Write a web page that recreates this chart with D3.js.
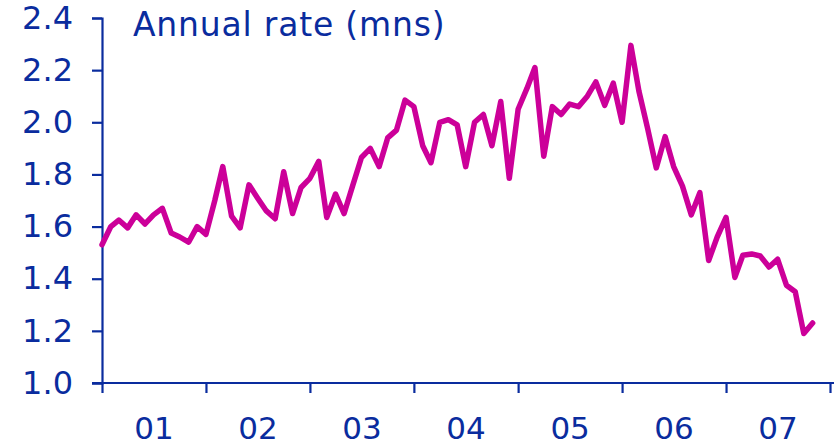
<!DOCTYPE html>
<html>
<head>
<meta charset="utf-8">
<script src="https://cdn.jsdelivr.net/npm/d3@7"></script>
<style>
  body { margin: 0; background: #fff; }
  svg { display: block; }
  text { font-family: "DejaVu Sans", Verdana, sans-serif; }
</style>
</head>
<body>
<svg id="chart" width="836" height="447"></svg>
<script>
// monthly annual rate, Jan 2001 .. Nov 2007
var firstMonth = new Date(2001, 0, 1);
var rates = [
  1.53, 1.60, 1.625, 1.595, 1.645, 1.61, 1.645, 1.67, 1.575, 1.56, 1.54, 1.60,   // 01
  1.57, 1.70, 1.83, 1.64, 1.595, 1.76, 1.71, 1.66, 1.63, 1.81, 1.65, 1.75,       // 02
  1.785, 1.85, 1.635, 1.725, 1.65, 1.76, 1.865, 1.90, 1.83, 1.94, 1.97, 2.085,   // 03
  2.06, 1.91, 1.845, 2.00, 2.01, 1.99, 1.83, 2.00, 2.03, 1.91, 2.08, 1.785,      // 04
  2.05, 2.13, 2.21, 1.87, 2.06, 2.03, 2.07, 2.06, 2.10, 2.155, 2.065, 2.15,      // 05
  2.0, 2.295, 2.12, 1.975, 1.825, 1.945, 1.83, 1.755, 1.645, 1.73, 1.47, 1.56,   // 06
  1.635, 1.405, 1.49, 1.495, 1.487, 1.445, 1.475, 1.375, 1.35, 1.19, 1.23         // 07
];
var yearLabels = ['01', '02', '03', '04', '05', '06', '07'];
var yTicks = [1.0, 1.2, 1.4, 1.6, 1.8, 2.0, 2.2, 2.4];
var title = 'Annual rate (mns)';

var axisColor = '#0a2c9e',
    lineColor = '#cc0099';

var svg = d3.select('#chart');

var data = rates.map(function(v, i) {
  return { date: d3.timeMonth.offset(firstMonth, i), value: v };
});

var x = d3.scaleTime()
  .domain([firstMonth, new Date(2008, 0, 1)])
  .range([102, 830]);

var y = d3.scaleLinear()
  .domain([1.0, 2.4])
  .range([383, 18]);

// y axis
var yAxis = svg.append('g')
  .attr('transform', 'translate(102,0)')
  .call(d3.axisLeft(y)
    .tickValues(yTicks)
    .tickSize(10)
    .tickPadding(19)
    .tickFormat(d3.format('.1f')));

// x axis, ticks at each January
var xAxis = svg.append('g')
  .attr('transform', 'translate(0,383)')
  .call(d3.axisBottom(x)
    .ticks(d3.timeYear.every(1))
    .tickSize(10)
    .tickFormat(''));

[yAxis, xAxis].forEach(function(g) {
  g.select('.domain').attr('stroke', axisColor).attr('stroke-width', 2.2);
  g.selectAll('.tick line').attr('stroke', axisColor).attr('stroke-width', 2.2);
  g.selectAll('text')
    .attr('fill', axisColor)
    .style('font-size', '32px');
});
xAxis.select('.domain').attr('d', 'M92,0H834');

// year labels in the middle of each year
svg.append('g').selectAll('text')
  .data(yearLabels)
  .enter().append('text')
  .attr('x', function(d, i) {
    return (x(new Date(2001 + i, 0, 1)) + x(new Date(2002 + i, 0, 1))) / 2;
  })
  .attr('y', 439)
  .attr('text-anchor', 'middle')
  .attr('fill', axisColor)
  .style('font-size', '31px')
  .text(function(d) { return d; });

svg.append('text')
  .attr('x', 133)
  .attr('y', 36)
  .attr('fill', axisColor)
  .style('font-size', '33px')
  .style('letter-spacing', '0.8px')
  .text(title);

var line = d3.line()
  .x(function(d) { return x(d.date); })
  .y(function(d) { return y(d.value); });

svg.append('path')
  .datum(data)
  .attr('d', line)
  .attr('fill', 'none')
  .attr('stroke', lineColor)
  .attr('stroke-width', 5.5)
  .attr('stroke-linejoin', 'round')
  .attr('stroke-linecap', 'round');
</script>
</body>
</html>
